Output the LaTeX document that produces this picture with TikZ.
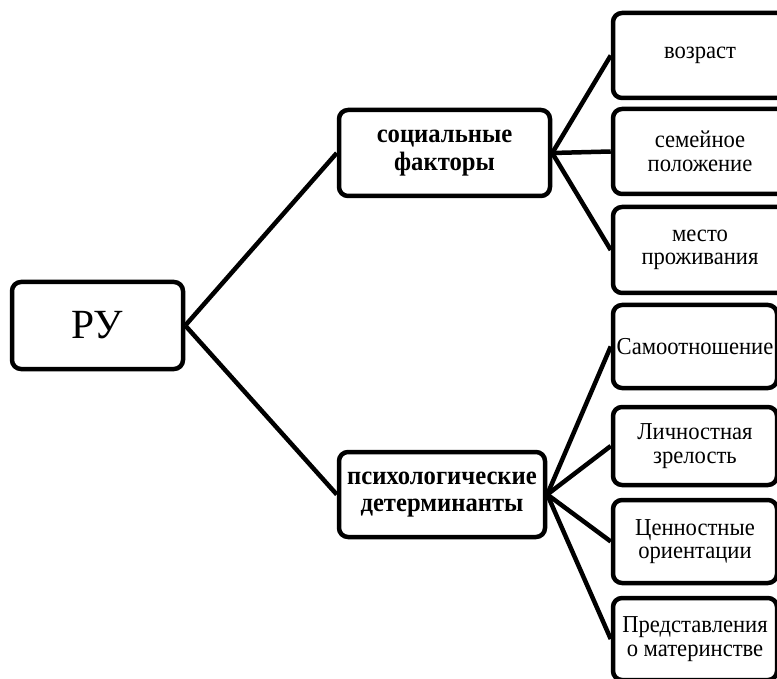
\documentclass[tikz,border=0pt]{standalone}
\usepackage{fontspec}
\setmainfont{Liberation Serif}
\newfontfamily\narrowserif[FakeStretch=0.93]{Liberation Serif}
\begin{document}
\begin{tikzpicture}[x=1pt,y=-1pt,
  box/.style={draw=black, line width=4.5pt, rounded corners=9pt, align=center, inner sep=0pt, fill=white},
  conn/.style={draw=black, line width=4.5pt},
  rootfont/.style={font=\fontsize{41.5}{46}\selectfont},
  midfont/.style={font=\narrowserif\fontsize{26.5}{27.5}\selectfont\bfseries},
  leaffont/.style={font=\narrowserif\fontsize{24.3}{23.5}\selectfont}]
\useasboundingbox (0,0) rectangle (777,679);
% nodes
\node[box, rootfont, minimum width=171pt, minimum height=87pt] (py) at (97.5,325.5) {РУ};
\node[box, midfont, minimum width=211pt, minimum height=86pt] (soc) at (444.5,153) {социальные\\факторы};
\node[box, midfont, minimum width=206pt, minimum height=85pt] (psy) at (442,494.5) {психологические\\детерминанты};
\node[box, leaffont, minimum width=174pt, minimum height=85pt] (r1) at (700,55.5) {возраст};
\node[box, leaffont, minimum width=174pt, minimum height=85pt] (r2) at (700,151.5) {семейное\\положение};
\node[box, leaffont, minimum width=174pt, minimum height=86pt] (r3) at (700,250) {место\\проживания};
\node[box, leaffont, minimum width=164pt, minimum height=83pt] (s1) at (695,346.5) {Самоотношение};
\node[box, leaffont, minimum width=164pt, minimum height=78pt] (s2) at (695,446) {Личностная\\зрелость};
\node[box, leaffont, minimum width=164pt, minimum height=83pt] (s3) at (695,541.5) {Ценностные\\ориентации};
\node[box, leaffont, minimum width=164pt, minimum height=82pt] (s4) at (695,639) {Представления\\о материнстве};
% connectors
\draw[conn] (py.east) -- (soc.west);
\draw[conn] (py.east) -- (psy.west);
\draw[conn] (soc.east) -- (r1.west);
\draw[conn] (soc.east) -- (r2.west);
\draw[conn] (soc.east) -- (r3.west);
\draw[conn] (psy.east) -- (s1.west);
\draw[conn] (psy.east) -- (s2.west);
\draw[conn] (psy.east) -- (s3.west);
\draw[conn] (psy.east) -- (s4.west);
\end{tikzpicture}
\end{document}
